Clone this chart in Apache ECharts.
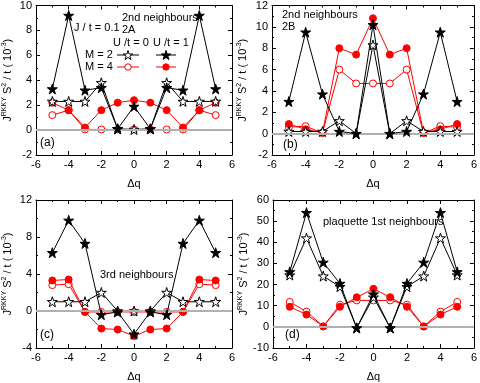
<!DOCTYPE html>
<html><head><meta charset="utf-8">
<script src="https://cdn.jsdelivr.net/npm/echarts@6/dist/echarts.min.js"></script>
<style>html,body{margin:0;padding:0;background:#fff}#c{width:480px;height:383px}</style>
</head><body><div id="c"></div>
<script>
const dq = [-5,-4,-3,-2,-1,0,1,2,3,4,5];
// panel (a) 2nd neighbours 2A
const a_M2_U0 = [2.3,2.3,2.3,3.8,0.1,0.05,0.1,3.8,2.3,2.3,2.3];
const a_M2_U1 = [3.3,9.2,3.2,3.4,0.1,1.9,0.1,3.4,3.2,9.2,3.3];
const a_M4_U0 = [1.2,1.6,0.05,0.05,0.05,0.05,0.05,0.05,0.05,1.6,1.2];
const a_M4_U1 = [2.2,1.6,0.2,1.6,2.2,2.4,2.2,1.6,0.2,1.6,2.2];
// panel (b) 2nd neighbours 2B
const b_M2_U0 = [0.2,0.2,0.2,1.2,0,8.3,0,1.2,0.2,0.2,0.2];
const b_M2_U1 = [3.0,9.5,3.7,0.2,0,10.2,0,0.2,3.7,9.5,3.0];
const b_M4_U0 = [0.6,0.7,0.05,6.0,4.7,4.7,4.7,6.0,0.05,0.7,0.6];
const b_M4_U1 = [0.9,0.4,0.1,8.0,7.4,10.8,7.4,8.0,0.1,0.4,0.9];
// panel (c) 3rd neighbours
const c_M2_U0 = [1.0,1.0,1.0,2.0,0,0,0,2.0,1.0,1.0,1.0];
const c_M2_U1 = [6.3,9.8,7.3,-0.4,-0.1,-2.5,-0.1,-0.4,7.3,9.8,6.3];
const c_M4_U0 = [2.8,2.9,-0.1,-0.1,-0.1,-0.1,-0.1,-0.1,-0.1,2.9,2.8];
const c_M4_U1 = [3.3,3.4,-0.1,-1.9,-2.0,-2.7,-2.0,-1.9,-0.1,3.4,3.3];
// panel (d) plaquette 1st neighbours
const d_M2_U0 = [24.5,42,24,19,-0.5,14,-0.5,19,24,42,24.5];
const d_M2_U1 = [26,54,30.5,20.5,-0.5,15.5,-0.5,20.5,30.5,54,26];
const d_M4_U0 = [11.8,7.2,0.2,10.5,12.5,12.5,12.5,10.5,0.2,7.2,11.8];
const d_M4_U1 = [9.5,5.8,0.2,9.5,14,18,14,9.5,0.2,5.8,9.5];

const STAR = 'path://M0,-1000L224,-309L951,-309L363,118L588,809L0,382L-588,809L-363,118L-951,-309L-224,-309Z';
const FONT = 'Liberation Sans';
const grids = [
  {left:32, top:5, width:200, height:150, ymin:-2, ymax:10, yint:2, d:[a_M2_U0,a_M2_U1,a_M4_U0,a_M4_U1]},
  {left:272, top:5, width:204, height:150, ymin:-2, ymax:12, yint:2, d:[b_M2_U0,b_M2_U1,b_M4_U0,b_M4_U1]},
  {left:32, top:200, width:200, height:150, ymin:-4, ymax:12, yint:4, d:[c_M2_U0,c_M2_U1,c_M4_U0,c_M4_U1]},
  {left:273, top:200, width:203, height:150, ymin:-10, ymax:60, yint:10, d:[d_M2_U0,d_M2_U1,d_M4_U0,d_M4_U1]}
];
const yName = '{j|J}{s|RKKY}{j| S}{s|2}{j| / t ( 10}{s|-3}{j|)}';
const xAxis=[], yAxis=[], series=[], grid=[];
const axLine = {onZero:false, lineStyle:{color:'#000',width:1}};
grids.forEach((g,i)=>{
  grid.push({left:g.left, top:g.top, width:g.width, height:g.height});
  const tickCommon = {inside:true, length:4, lineStyle:{color:'#000'}};
  const minor = {show:true, splitNumber:2, length:2, lineStyle:{color:'#000'}};
  xAxis.push({type:'value', gridIndex:i, min:-6, max:6, interval:2, position:'bottom',
    axisLine:axLine, axisTick:tickCommon, minorTick:minor, splitLine:{show:false},
    axisLabel:{color:'#000', fontFamily:FONT, fontSize:11, margin:4},
    name:'\u0394q', nameLocation:'middle', nameGap:23, nameTextStyle:{color:'#000', fontFamily:FONT, fontSize:11}});
  xAxis.push({type:'value', gridIndex:i, min:-6, max:6, interval:2, position:'top',
    axisLine:axLine, axisTick:tickCommon, minorTick:minor, splitLine:{show:false}, axisLabel:{show:false}});
  yAxis.push({type:'value', gridIndex:i, min:g.ymin, max:g.ymax, interval:g.yint, position:'left',
    axisLine:axLine, axisTick:tickCommon, minorTick:minor, splitLine:{show:false},
    axisLabel:{color:'#000', fontFamily:FONT, fontSize:11, margin:4},
    name:yName, nameLocation:'middle', nameRotate:90, nameGap:i%2===0?22:23,
    nameTextStyle:{color:'#000', fontFamily:FONT, fontSize:11,
      rich:{j:{fontSize:11, fontFamily:FONT, color:'#000'}, s:{fontSize:7, fontFamily:FONT, color:'#000', verticalAlign:'top', padding:[0,0,6,0]}}}});
  yAxis.push({type:'value', gridIndex:i, min:g.ymin, max:g.ymax, interval:g.yint, position:'right',
    axisLine:axLine, axisTick:tickCommon, minorTick:minor, splitLine:{show:false}, axisLabel:{show:false}});
  const xi = i*2, yi = i*2;
  const mk = (vals)=>dq.map((x,k)=>[x, vals[k]]);
  series.push({type:'line', xAxisIndex:xi, yAxisIndex:yi, data:mk(g.d[2]), symbol:'circle', symbolSize:7,
    lineStyle:{color:'#ff0000', width:1}, itemStyle:{color:'#fff', borderColor:'#ff0000', borderWidth:1}, z:2,
    markLine:{silent:true, symbol:'none', label:{show:false}, lineStyle:{color:'#b0b0b0', width:2, type:'solid'}, data:[{yAxis:0}]}});
  series.push({type:'line', xAxisIndex:xi, yAxisIndex:yi, data:mk(g.d[3]), symbol:'circle', symbolSize:7,
    lineStyle:{color:'#ff0000', width:1}, itemStyle:{color:'#ff0000', borderColor:'#ff0000', borderWidth:1}, z:3});
  series.push({type:'line', xAxisIndex:xi, yAxisIndex:yi, data:mk(g.d[0]), symbol:STAR, symbolSize:10,
    lineStyle:{color:'#000', width:1}, itemStyle:{color:'#fff', borderColor:'#000', borderWidth:1}, z:4});
  series.push({type:'line', xAxisIndex:xi, yAxisIndex:yi, data:mk(g.d[1]), symbol:STAR, symbolSize:10,
    lineStyle:{color:'#000', width:1}, itemStyle:{color:'#000', borderColor:'#000', borderWidth:1}, z:5});
});
const T = (x,y,text,size)=>({type:'text', x:x, y:y, style:{text:text, fill:'#000', font:(size||11)+'px "'+FONT+'"', textVerticalAlign:'middle', verticalAlign:'middle'}, z:20});
const starPts = (cx,cy,r)=>{
  const p=[];
  for(let k=0;k<10;k++){const rr=k%2?r*0.382:r; const a=(-90+36*k)*Math.PI/180; p.push([cx+rr*Math.cos(a), cy+rr*Math.sin(a)]);}
  return p;
};
const legendSample = (x1,x2,y,color,sym,fill)=>{
  const els = [{type:'line', shape:{x1:x1,y1:y,x2:x2,y2:y}, style:{stroke:color, lineWidth:1}, z:20}];
  const cx=(x1+x2)/2;
  if(sym==='star') els.push({type:'polygon', shape:{points:starPts(cx,y+0.5,5)}, style:{fill:fill, stroke:color, lineWidth:1}, z:21});
  else els.push({type:'circle', shape:{cx:cx, cy:y, r:3.2}, style:{fill:fill, stroke:color, lineWidth:1}, z:21});
  return els;
};
const graphic = [
  T(74,28,'J / t = 0.1'), T(122,18,'2nd neighbours'), T(122,30,'2A'),
  T(113,43,'U /t = 0'), T(153,43,'U /t = 1'), T(85,55,'M = 2'), T(85,67,'M = 4'),
  ...legendSample(117,139,55,'#000','star','#fff'),
  ...legendSample(156,176,55,'#000','star','#000'),
  ...legendSample(117,139,67,'#ff0000','circle','#fff'),
  ...legendSample(156,176,67,'#ff0000','circle','#ff0000'),
  T(40,143,'(a)',12),
  T(282,15,'2nd neighbours'), T(282,27,'2B'), T(283,145,'(b)',12),
  T(100,275,'3rd neighbours'), T(40,335,'(c)',12),
  T(323,222,'plaquette 1st neighbours'), T(285,335,'(d)',12)
];
const chart = echarts.init(document.getElementById('c'), null, {renderer:'canvas'});
chart.setOption({animation:false, backgroundColor:'#fff', grid, xAxis, yAxis, series, graphic});
</script></body></html>
